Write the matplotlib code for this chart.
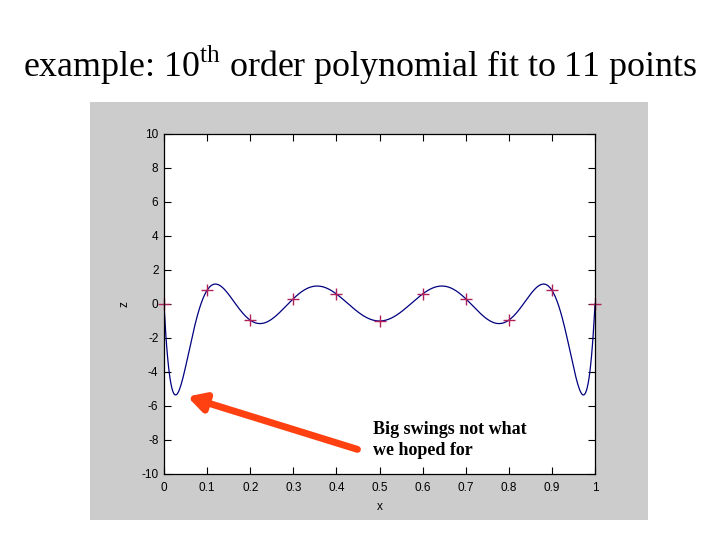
import numpy as np
import matplotlib
matplotlib.use('Agg')
import matplotlib.pyplot as plt
from matplotlib.patches import Rectangle

# the 11 sample points
xPts = [0.0, 0.1, 0.2, 0.3, 0.4, 0.5, 0.6, 0.7, 0.8, 0.9, 1.0]
zPts = [0.0, 0.81, -0.95, 0.31, 0.59, -1.0, 0.59, 0.31, -0.95, 0.81, 0.0]
order = 10

xTicks = [0, 0.1, 0.2, 0.3, 0.4, 0.5, 0.6, 0.7, 0.8, 0.9, 1]
yTicks = [-10, -8, -6, -4, -2, 0, 2, 4, 6, 8, 10]

plt.rcParams['mathtext.fontset'] = 'custom'
plt.rcParams['mathtext.rm'] = 'Liberation Serif'
plt.rcParams['axes.unicode_minus'] = False

fig = plt.figure(figsize=(7.2, 5.4), dpi=100)
fig.patch.set_facecolor('white')

# grey matlab figure window
fig.patches.append(Rectangle((90/720, 1-520/540), 558/720, 418/540,
                             transform=fig.transFigure, facecolor='#cccccc',
                             edgecolor='none', zorder=-10))

fig.text(0.5, 1-65/540, r'example: 10$^{\mathrm{th}}$ order polynomial fit to 11 points',
         ha='center', va='center', fontsize=25.8, family='Liberation Serif')

ax = fig.add_axes([164/720, 1-474/540, 431/720, 340/540])
ax.set_facecolor('white')

# 10th order fit through the points
poly = np.polynomial.Polynomial.fit(xPts, zPts, order)
xx = np.linspace(0, 1, 500)
ax.plot(xx, poly(xx), color='#000080', lw=0.9)
ax.plot(xPts, zPts, '+', color='#b0205a', ms=8, mew=1.0, clip_on=False)

ax.set_xlim(0, 1)
ax.set_ylim(-10, 10)
ax.set_xticks(xTicks)
ax.set_xticklabels([str(t) for t in xTicks])
ax.set_yticks(yTicks)
ax.tick_params(direction='in', length=5, top=True, right=True, labelsize=8.5)
ax.tick_params(axis='x', pad=6)
ax.tick_params(axis='y', pad=4)
for lbl in ax.get_xticklabels() + ax.get_yticklabels():
    lbl.set_family('Liberation Sans')
for sp in ax.spines.values():
    sp.set_linewidth(0.9)
ax.set_xlabel('x', fontsize=8.5, family='Liberation Sans', labelpad=5)
ax.set_ylabel('z', fontsize=8.5, family='Liberation Sans', labelpad=8)

ax.annotate('', xy=(0.048, -5.4), xytext=(0.455, -8.6),
            arrowprops=dict(arrowstyle='-|>,head_length=1.0,head_width=0.55',
                            color='#ff4010', lw=5))
ax.text(0.484, -8.0, 'Big swings not what\nwe hoped for', fontsize=13,
        fontweight='bold', family='Liberation Serif', va='center', ha='left',
        linespacing=1.25)

fig.savefig('out.png', dpi=100)
